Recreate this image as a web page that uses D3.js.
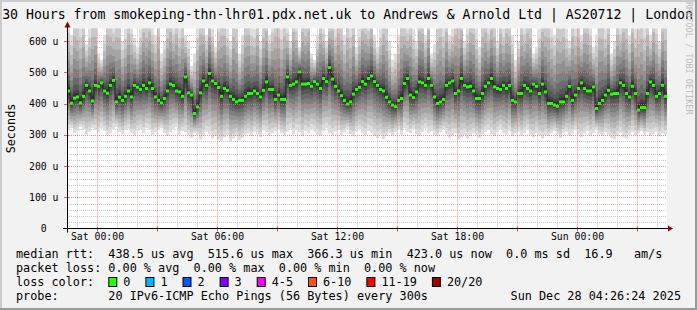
<!DOCTYPE html>
<html>
<head>
<meta charset="utf-8">
<script src="https://cdn.jsdelivr.net/npm/d3@7"></script>
<style>
  html, body { margin: 0; padding: 0; background: #f2f2f2; }
  svg { display: block; }
  text { font-family: 'DejaVu Sans Mono', monospace; white-space: pre; }
</style>
</head>
<body>
<div id="app"></div>
<script>
// median rtt per 9 minute step, in microseconds
const medianRtt = [
  440,401,417,421,402,423,458,440,408,458, 455,466,440,433,458,474,405,420,410,423,
  440,421,458,452,445,458,448,466,448,421, 410,402,416,440,462,458,440,437,423,485,
  434,427,368,389,434,472,458,496,472,464, 451,423,448,442,423,413,405,410,410,423,
  432,432,440,432,421,442,469,445,445,413, 427,413,413,485,458,462,469,501,462,462,
  464,
  455,470,462,448,480,470,515,478,455,440, 425,410,398,405,430,445,452,470,462,480,
  488,470,458,445,440,420,405,395,390,410,
  416,464,480,427,419,437,469,466,458,480, 458,421,400,405,413,458,466,472,432,440,
  480,458,453,455,440,416,416,432,455,466, 480,453,448,445,458,448,458,410,405,432,
  432,458,448,440,462,455,432,462,437,400, 400,395,391,405,405,423,455,410,427,448,
  466,448,440,440,453,384,400,410,427,442, 430,432,432,466,458,432,421,455,432,379,
  387,387,432,469,458,423,432,458,423
];

// fastest ping per step (bottom edge of the smoke)
const minPing = [
  318,322,305,312,325,318,300,310,322,315, 308,320,312,298,305,318,325,310,302,315,
  320,305,298,312,318,306,322,315,300,310, 315,322,305,296,310,318,325,300,312,308,
  298,290,305,300,285,295,310,302,288,296, 285,280,292,300,278,288,295,282,290,300,
  305,296,310,302,292,315,308,298,305,312, 318,305,298,310,320,302,315,308,296,312,
  305,318,310,300,296,312,320,305,298,310, 315,300,308,318,302,295,310,316,305,300,
  312,305,296,290,300,286,295,305,298,310, 315,300,322,310,305,318,302,296,310,320,
  305,312,300,295,308,316,302,290,298,305, 285,292,300,288,295,305,298,290,302,310,
  315,302,296,308,318,305,300,312,296,305, 310,298,305,316,300,292,305,298,288,300,
  295,305,312,300,290,306,310,298,305,315, 300,292,305,312,298,306,315,302,296,308,
  300,290,285,296,305,292,288,300,310,298, 305,312,300,308,296,302,310,295,305,300
];

// slowest ping per step (top edge of the smoke, clipped by the graph)
const maxPing = [
  660,620,700,680,650,700,590,640,700,680, 560,540,620,700,680,650,700,690,600,640,
  700,660,610,580,640,700,680,700,650,620, 700,560,600,680,700,650,700,640,690,620,
  600,520,560,650,700,680,620,700,640,580, 660,700,690,640,600,700,680,560,620,700,
  700,650,640,700,600,680,700,620,660,700, 690,640,700,650,600,700,660,580,700,680,
  700,560,540,620,700,650,600,680,700,640, 700,680,620,700,650,700,580,640,700,690,
  660,700,620,580,640,700,680,600,540,560, 620,700,680,650,700,640,600,700,690,620,
  700,560,590,680,700,650,700,620,640,700, 680,700,600,650,700,700,640,580,690,700,
  650,700,680,600,700,640,700,680,620,540, 600,700,650,700,680,560,580,640,700,690,
  700,650,620,700,680,700,640,600,700,650, 680,620,700,700,650,580,620,700,690,640,
  700,560,600,700,650,700,680,620,700,640, 680,700,650,700,620,700,660,600,700,680
];

const yTickValues = [0, 100, 200, 300, 400, 500, 600];
const lossLabels = ['0', '1', '2', '3', '4-5', '6-10', '11-19', '20/20'];
const lossColors = ['#26ff00', '#00b8ff', '#0059ff', '#7e00ff', '#ff00ff', '#ff5500', '#ff0000', '#a10000'];
const rttLine = 'median rtt:  438.5 us avg  515.6 us max  366.3 us min  423.0 us now  0.0 ms sd  16.9   am/s';
const lossLine = 'packet loss: 0.00 % avg  0.00 % max  0.00 % min  0.00 % now';
const probeLine = 'probe:       20 IPv6-ICMP Echo Pings (56 Bytes) every 300s';
const stampText = 'Sun Dec 28 04:26:24 2025';
const titleText = '30 Hours from smokeping-thn-lhr01.pdx.net.uk to Andrews & Arnold Ltd | AS20712 | London';

(() => {
  const W = 697, H = 310;
  const pLeft = 67, pRight = 667, pTop = 28.5, pBottom = 228.5;
  const start = new Date(2025, 11, 26, 22, 30);
  const end = new Date(2025, 11, 28, 4, 30);
  const stepMs = (end - start) / medianRtt.length;

  const svg = d3.select('#app').append('svg')
    .attr('width', W)
    .attr('height', H);

  // frame
  svg.append('rect').attr('width', W).attr('height', H).attr('fill', '#f2f2f2');
  svg.append('path').attr('d', `M1,${H} V1 H${W}`).attr('stroke', '#cbcbcb').attr('stroke-width', 2).attr('fill', 'none');
  svg.append('path').attr('d', `M0,${H - 1} H${W - 1} V0`).attr('stroke', '#9a9a9a').attr('stroke-width', 2).attr('fill', 'none');

  const x = d3.scaleTime().domain([start, end]).range([pLeft, pRight]);
  const y = d3.scaleLinear().domain([0, 640]).range([pBottom, pTop]);

  svg.append('rect')
    .attr('x', pLeft).attr('y', pTop)
    .attr('width', pRight - pLeft).attr('height', pBottom - pTop)
    .attr('fill', '#ffffff');

  svg.append('clipPath').attr('id', 'plotclip')
    .append('rect')
    .attr('x', pLeft).attr('y', pTop)
    .attr('width', pRight - pLeft).attr('height', pBottom - pTop);

  const series = medianRtt.map((m, i) => ({
    t: new Date(+start + i * stepMs),
    med: m,
    lo: minPing[i],
    hi: maxPing[i]
  }));
  // close the last step at the right edge
  const stepped = series.concat([{ ...series[series.length - 1], t: end }]);

  const plot = svg.append('g').attr('clip-path', 'url(#plotclip)');

  // minor grid
  const minorY = d3.range(20, 640, 20).filter(v => v % 100 !== 0);
  plot.selectAll('.gy').data(minorY).enter().append('line')
    .attr('x1', pLeft).attr('x2', pRight)
    .attr('y1', d => Math.round(y(d)) + 0.5).attr('y2', d => Math.round(y(d)) + 0.5)
    .attr('stroke', '#c8c8c8').attr('stroke-dasharray', '1,1');
  const minorX = d3.timeHour.every(1).range(start, end).filter(d => d.getHours() % 3 !== 0);
  plot.selectAll('.gx').data(minorX).enter().append('line')
    .attr('y1', pTop).attr('y2', pBottom)
    .attr('x1', d => Math.round(x(d)) + 0.5).attr('x2', d => Math.round(x(d)) + 0.5)
    .attr('stroke', '#c8c8c8').attr('stroke-dasharray', '1,1');

  // smoke: 10 nested bands, outer light to inner dark
  const half = 10;
  for (let k = 1; k <= half; k++) {
    const f = (half - k) / (half - 1);
    const a = 0.05 + 0.95 * Math.pow(f, 1.2);
    const b = 0.05 + 0.95 * Math.pow(f, 1.5);
    const shade = Math.floor(190 / half * (half - k)) + 50;
    const area = d3.area()
      .curve(d3.curveStepAfter)
      .x(d => x(d.t))
      .y0(d => y(d.med - (d.med - d.lo) * a))
      .y1(d => y(d.med + (d.hi - d.med) * b));
    plot.append('path')
      .datum(stepped)
      .attr('d', area)
      .attr('fill', d3.rgb(shade, shade, shade));
  }

  // median line
  plot.append('path')
    .datum(stepped)
    .attr('d', d3.line().curve(d3.curveStepAfter).x(d => x(d.t)).y(d => y(d.med)))
    .attr('fill', 'none')
    .attr('stroke', '#202020')
    .attr('stroke-width', 1);

  plot.selectAll('.med').data(series).enter().append('rect')
    .attr('x', d => x(d.t))
    .attr('width', d => x(new Date(+d.t + stepMs)) - x(d.t))
    .attr('y', d => y(d.med) - 1.5)
    .attr('height', 3)
    .attr('fill', lossColors[0]);

  // major grid on top
  const majorY = yTickValues.filter(v => v > 0);
  plot.selectAll('.my').data(majorY).enter().append('line')
    .attr('x1', pLeft).attr('x2', pRight)
    .attr('y1', d => Math.round(y(d)) + 0.5).attr('y2', d => Math.round(y(d)) + 0.5)
    .attr('stroke', '#f07070').attr('stroke-opacity', 0.8).attr('stroke-dasharray', '1,1');
  const majorX = d3.timeHour.every(3).range(start, end);
  plot.selectAll('.mx').data(majorX).enter().append('line')
    .attr('y1', pTop).attr('y2', pBottom)
    .attr('x1', d => Math.round(x(d)) + 0.5).attr('x2', d => Math.round(x(d)) + 0.5)
    .attr('stroke', '#f07070').attr('stroke-opacity', 0.8).attr('stroke-dasharray', '1,1');

  // tick marks on axes
  svg.selectAll('.tx').data(majorX).enter().append('line')
    .attr('x1', d => Math.round(x(d)) + 0.5).attr('x2', d => Math.round(x(d)) + 0.5)
    .attr('y1', pBottom - 2).attr('y2', pBottom + 3)
    .attr('stroke', '#ff5555');
  svg.selectAll('.ty').data(majorY).enter().append('line')
    .attr('y1', d => Math.round(y(d)) + 0.5).attr('y2', d => Math.round(y(d)) + 0.5)
    .attr('x1', pLeft - 3).attr('x2', pLeft + 2)
    .attr('stroke', '#ff5555');

  // axis lines with arrows
  svg.append('line')
    .attr('x1', pLeft - 4).attr('x2', pRight + 2)
    .attr('y1', pBottom).attr('y2', pBottom)
    .attr('stroke', '#000');
  svg.append('line')
    .attr('x1', pLeft + 0.5).attr('x2', pLeft + 0.5)
    .attr('y1', pBottom + 4).attr('y2', pTop - 4)
    .attr('stroke', '#000');
  svg.append('path')
    .attr('d', `M${pRight + 1},${pBottom - 3} L${pRight + 6},${pBottom} L${pRight + 1},${pBottom + 3} Z`)
    .attr('fill', '#8b0000');
  svg.append('path')
    .attr('d', `M${pLeft - 2.5},${pTop - 1} L${pLeft + 0.5},${pTop - 7} L${pLeft + 3.5},${pTop - 1} Z`)
    .attr('fill', '#8b0000');

  // x labels
  const xAxis = d3.axisBottom(x)
    .ticks(d3.timeHour.every(6))
    .tickFormat(d3.timeFormat('%a %H:%M'))
    .tickSize(0)
    .tickPadding(5);
  const gx = svg.append('g')
    .attr('transform', `translate(0,${pBottom})`)
    .call(xAxis);
  gx.select('.domain').remove();
  gx.selectAll('text')
    .style('font-family', "'DejaVu Sans Mono', monospace")
    .style('font-size', '9.8px')
    .attr('fill', '#000');

  // y labels
  const yAxis = d3.axisLeft(y)
    .tickValues(yTickValues)
    .tickFormat(d => d === 0 ? '0  ' : d + ' u')
    .tickSize(0)
    .tickPadding(8.5);
  const gy = svg.append('g')
    .attr('transform', `translate(${pLeft},0)`)
    .call(yAxis);
  gy.select('.domain').remove();
  gy.selectAll('text')
    .style('font-family', "'DejaVu Sans Mono', monospace")
    .style('font-size', '9.8px')
    .style('white-space', 'pre')
    .attr('fill', '#000');

  // titles
  svg.append('text')
    .attr('x', W / 2 - 1).attr('y', 14)
    .attr('text-anchor', 'middle')
    .attr('dominant-baseline', 'central')
    .style('font-size', '13.2px')
    .text(titleText);

  svg.append('text')
    .attr('transform', `translate(11,${(pTop + pBottom) / 2}) rotate(-90)`)
    .attr('text-anchor', 'middle')
    .attr('dominant-baseline', 'central')
    .style('font-size', '11.8px')
    .text('Seconds');

  svg.append('text')
    .attr('transform', 'translate(689,2) rotate(90)')
    .attr('dominant-baseline', 'central')
    .style('font-size', '8.5px')
    .attr('fill', '#bbbbbb')
    .text('RRDTOOL / TOBI OETIKER');

  // legend
  const cw = 7.1;
  const lx = 16;
  const legendFont = '11.8px';
  [[rttLine, 254], [lossLine, 268], [probeLine, 296]].forEach(([t, ly]) => {
    svg.append('text')
      .attr('x', lx).attr('y', ly)
      .attr('dominant-baseline', 'central')
      .style('font-size', legendFont)
      .text(t);
  });
  svg.append('text')
    .attr('x', lx).attr('y', 282)
    .attr('dominant-baseline', 'central')
    .style('font-size', legendFont)
    .text('loss color:');
  svg.append('text')
    .attr('x', 681).attr('y', 296)
    .attr('text-anchor', 'end')
    .attr('dominant-baseline', 'central')
    .style('font-size', legendFont)
    .text(stampText);

  let bx = lx + 13 * cw;
  lossLabels.forEach((lab, i) => {
    svg.append('rect')
      .attr('x', bx + 0.5).attr('y', 277.5)
      .attr('width', 8).attr('height', 9)
      .attr('fill', lossColors[i])
      .attr('stroke', '#000');
    svg.append('text')
      .attr('x', bx + 15).attr('y', 282)
      .attr('dominant-baseline', 'central')
      .style('font-size', legendFont)
      .text(lab);
    bx = bx + 15 + lab.length * cw + 15;
  });
})();
</script>
</body>
</html>
